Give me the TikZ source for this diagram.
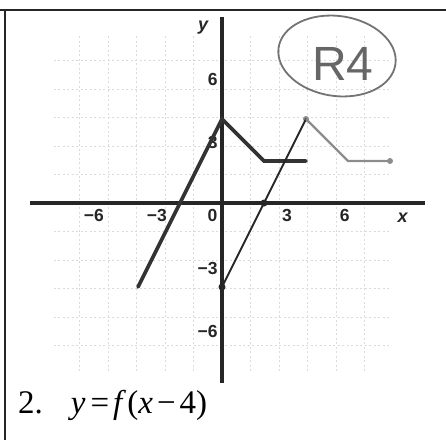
\documentclass[tikz,border=0pt]{standalone}
\usepackage{fontspec}
\usetikzlibrary{shapes.geometric}
\setmainfont{Liberation Serif}
\newfontfamily\ticksf{Liberation Sans}
\begin{document}
\begin{tikzpicture}[x=21pt,y=21pt,
  gridline/.style={gray!28,line width=0.6pt,dash pattern=on 2pt off 2.5pt},
  axisline/.style={line width=3.8pt,black!85},
  fline/.style={line width=3.6pt,black!80,line cap=round,line join=miter},
  shiftline/.style={line width=1.8pt,black!85,line cap=round},
  grayline/.style={line width=2.2pt,gray!90,line join=round},
  dotb/.style={circle,fill=black!85,inner sep=0pt,minimum size=7pt},
  dotg/.style={circle,fill=gray!90,inner sep=0pt,minimum size=6pt},
  ticklbl/.style={font=\ticksf\bfseries\fontsize{17.5}{17.5}\selectfont,inner sep=0pt,black!85},
  axlbl/.style={font=\ticksf\bfseries\itshape\fontsize{18}{18}\selectfont,inner sep=0pt,black!85},
  frameline/.style={line width=2.8pt,black!85}]
\useasboundingbox (-222pt,-237pt) rectangle (224pt,203pt);
% frame
\coordinate (ftl) at (-222pt,193pt);
\coordinate (ftr) at (224pt,193pt);
\coordinate (fl) at (-217pt,193pt);
\coordinate (fb) at (-217pt,-237pt);
\draw[frameline] (ftl) -- (ftr);
\draw[frameline] (fl) -- (fb);
% grid
\draw[gridline] (-8,-8) grid (8,8);
% axes
\coordinate (xl) at (-9.15,0);
\coordinate (xr) at (9.65,0);
\coordinate (yt) at (0,8.85);
\coordinate (yb) at (0,-8.55);
\draw[axisline] (xl) -- (xr);
\draw[axisline] (yt) -- (yb);
\node[axlbl] (ylab) at (-0.9,8.35) {y};
\node[axlbl] (xlab) at (8.6,-0.7) {x};
% tick labels
\node[ticklbl] (tx1) at (-6.1,-0.6) {\char"2212 6};
\node[ticklbl] (tx2) at (-3.1,-0.6) {\char"2212 3};
\node[ticklbl] (tx3) at (-0.45,-0.6) {0};
\node[ticklbl] (tx4) at (3.1,-0.6) {3};
\node[ticklbl] (tx5) at (5.85,-0.6) {6};
\node[ticklbl,anchor=east] (ty1) at (-0.2,5.86) {6};
\node[ticklbl,anchor=east] (ty2) at (-0.2,2.9) {3};
\node[ticklbl,anchor=east] (ty3) at (-0.2,-3.14) {\char"2212 3};
\node[ticklbl,anchor=east] (ty4) at (-0.2,-6.14) {\char"2212 6};
% f(x)
\coordinate (f1) at (-4,-4);
\coordinate (f2) at (0,4);
\coordinate (f3) at (2,2);
\coordinate (f4) at (4,2);
\draw[fline] (f1) -- (f2) -- (f3) -- (f4);
% f(x-4)
\node[dotb] (s1) at (0,-4) {};
\node[dotb] (s2) at (2,0) {};
\node[dotg] (g1) at (4,4) {};
\coordinate (g2) at (6,2);
\node[dotg] (g3) at (8,2) {};
\draw[shiftline] (s1.center) -- (g1.center);
\draw[grayline] (g1.center) -- (g2) -- (g3.center);
% R4 annotation
\node[draw=black!55,line width=1.8pt,ellipse,minimum width=118pt,minimum height=80pt,inner sep=0pt,rotate=-8] (circ) at (115pt,147pt) {};
\node[text=black!60,font=\ticksf\fontsize{48}{48}\selectfont,inner sep=0pt] (r4) at (121pt,139pt) {R4};
% caption
\node[anchor=base west,inner sep=0pt,font=\fontsize{33}{33}\selectfont] (cap) at (-204pt,-210pt)
  {2.\hspace{0.85em}\textit{y}\hspace{0.15em}=\hspace{0.12em}\textit{f}\hspace{0.04em}(\textit{x}\hspace{0.12em}\char"2212\hspace{0.12em}4)};
\end{tikzpicture}
\end{document}
